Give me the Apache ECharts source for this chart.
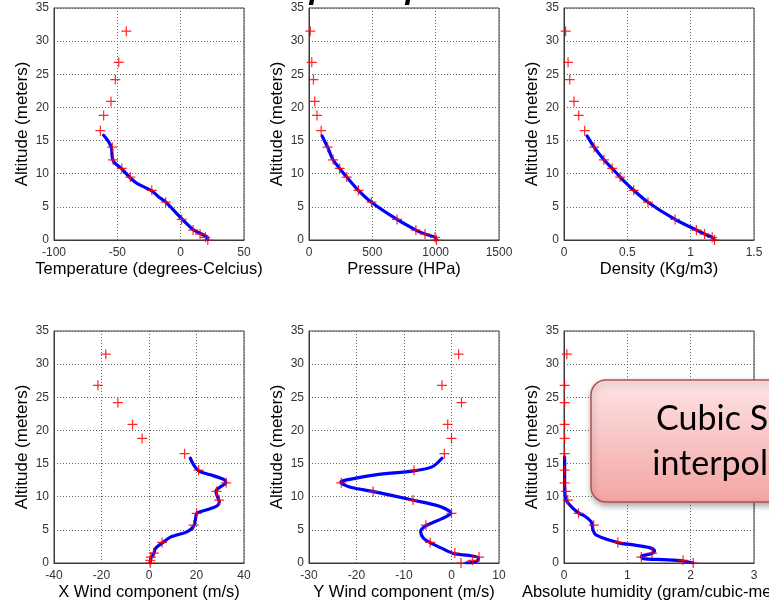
<!DOCTYPE html>
<html><head><meta charset="utf-8">
<script src="https://cdn.jsdelivr.net/npm/echarts/dist/echarts.min.js"></script>
<style>html,body{margin:0;padding:0;background:#fff}#c{width:769px;height:606px}</style>
</head><body><div id="c"></div>
<script>
// ---- data ----
const altitude    = [31.5, 26.8, 24.2, 20.9, 18.8, 16.5, 14.0, 12.1, 10.8, 9.5, 7.5, 5.7, 3.1, 1.5, 0.9, 0.4, 0.0];
const temperature = [-42.9, -48.9, -51.6, -55.0, -60.8, -63.4, -54.0, -53.4, -46.5, -39.7, -22.8, -11.8, 0.8, 9.8, 15.3, 19.6, 21.4];
const pressure    = [10, 22, 35, 45, 63, 96, 147, 190, 242, 298, 390, 493, 695, 844, 916, 995, 1006];
const density     = [0.013, 0.032, 0.045, 0.079, 0.116, 0.163, 0.238, 0.315, 0.38, 0.443, 0.55, 0.663, 0.877, 1.045, 1.11, 1.17, 1.188];
const xWind       = [-18.2, -21.5, -13.1, -6.95, -2.9, 15.0, 20.9, 32.5, 28.4, 29.5, 20.1, 18.8, 5.5, 2.0, 0.8, 0.5, 0.5];
const yWind       = [1.5, -2.0, 2.1, -0.8, 0.0, -1.5, -7.9, -23.2, -16.5, -8.1, 0.0, -5.4, -4.5, 0.7, 5.8, 4.4, 2.0];
const humidity    = [0.045, 0.01, 0.01, 0.01, 0.01, 0.01, 0.01, 0.01, 0.03, 0.06, 0.23, 0.47, 0.85, 1.39, 1.22, 1.88, 2.04];

// blue interpolated curves
const tempCurveT   = [-60.8, -56.8, -54.5, -54.2, -52.9, -46.3, -39.7, -34.5, -23.1, -17.3, -12.1, 1.05, 10.3, 15.6, 20.8, 21.3];
const tempCurveAlt = [15.8, 14.8, 13.8, 12.8, 11.8, 10.7, 9.35, 8.55, 7.44, 6.5, 5.78, 3.17, 1.5, 1.0, 0.4, 0.05];
const presCurveP   = [103, 147, 190, 242, 298, 390, 493, 695, 844, 916, 995, 1006];
const presCurveAlt = [15.7, 14.0, 12.1, 10.8, 9.5, 7.5, 5.7, 3.1, 1.5, 0.9, 0.4, 0.0];
const densCurveD   = [0.182, 0.238, 0.315, 0.38, 0.443, 0.55, 0.663, 0.877, 1.045, 1.11, 1.17, 1.188];
const densCurveAlt = [15.7, 14.0, 12.1, 10.8, 9.5, 7.5, 5.7, 3.1, 1.5, 0.9, 0.4, 0.0];
const xwCurveU     = [17.4, 18.8, 20.9, 25.9, 31.5, 32.4, 30.1, 28.2, 28.6, 29.6, 28.6, 25.1, 20.2, 19.5, 18.8, 16.0, 9.0, 5.5, 2.7, 2.0, 0.9, 0.5];
const xwCurveAlt   = [15.8, 14.8, 13.9, 13.3, 12.6, 12.15, 11.5, 10.85, 10.2, 9.2, 8.6, 8.1, 7.5, 6.45, 5.55, 4.7, 3.9, 3.0, 2.2, 1.4, 0.8, 0.05];
const ywCurveV     = [-2.0, -4.1, -7.95, -16.0, -22.3, -23.3, -21.6, -16.6, -8.2, -2.7, -0.1, -2.0, -5.5, -6.5, -5.85, -4.3, -2.0, 0.6, 3.6, 5.7, 5.4, 4.3, 3.0];
const ywCurveAlt   = [15.8, 14.5, 13.9, 13.3, 12.5, 12.2, 11.5, 10.8, 9.5, 8.6, 7.5, 6.7, 5.55, 4.7, 3.7, 3.0, 2.2, 1.4, 1.15, 0.8, 0.3, 0.05, 0.0];
const humCurveH    = [0.01, 0.01, 0.02, 0.06, 0.22, 0.33, 0.43, 0.46, 0.51, 0.85, 1.14, 1.35, 1.43, 1.38, 1.22, 1.25, 1.56, 1.88, 2.04];
const humCurveAlt  = [16.0, 12.0, 10.0, 9.1, 7.6, 7.06, 6.2, 4.9, 4.2, 3.08, 2.67, 2.32, 1.82, 1.41, 1.0, 0.66, 0.5, 0.3, 0.0];

const xNames = ['Temperature (degrees-Celcius)', 'Pressure (HPa)', 'Density (Kg/m3)',
                'X Wind component (m/s)', 'Y Wind component (m/s)', 'Absolute humidity (gram/cubic-meter)'];
const yName = 'Altitude (meters)';
const xMin = [-100, 0, 0, -40, -30, 0];
const xMax = [50, 1500, 1.5, 40, 10, 3];
const xStep = [50, 500, 0.5, 20, 10, 1];
const yMin = 0, yMax = 35, yStep = 5;
const calloutLines = ['Cubic Spline', 'interpolation'];
const titleText = 'Atmosphere profiles';

// ---- build chart ----
const markerVals = [temperature, pressure, density, xWind, yWind, humidity];
const curveX = [tempCurveT, presCurveP, densCurveD, xwCurveU, ywCurveV, humCurveH];
const curveY = [tempCurveAlt, presCurveAlt, densCurveAlt, xwCurveAlt, ywCurveAlt, humCurveAlt];

const lefts = [54, 309, 564];
const tops = [8, 331];
const W = 190, H = 232;
const FONT = 'Liberation Sans, Arial, sans-serif';
const plus = 'path://M4.4,0H5.6V4.4H10V5.6H5.6V10H4.4V5.6H0V4.4H4.4Z';

const grid = [], xAxis = [], yAxis = [], series = [], names = [];
for (let i = 0; i < 6; i++) {
  const gl = lefts[i % 3], gt = tops[Math.floor(i / 3)];
  grid.push({ left: gl, top: gt, width: W, height: H,
              show: true, borderColor: '#3a3a3a', borderWidth: 1, backgroundColor: '#fff' });
  const split = { show: true, lineStyle: { type: [1, 2], color: '#666', width: 1 } };
  xAxis.push({ type: 'value', gridIndex: i, min: xMin[i], max: xMax[i], interval: xStep[i],
    axisLine: { show: true, onZero: false, lineStyle: { color: '#3a3a3a' } }, axisTick: { show: false },
    axisLabel: { fontFamily: FONT, fontSize: 12, color: '#333', margin: 7, formatter: v => String(v) },
    splitLine: split });
  yAxis.push({ type: 'value', gridIndex: i, min: yMin, max: yMax, interval: yStep,
    name: yName, nameLocation: 'middle', nameGap: 23, nameRotate: 90,
    nameTextStyle: { fontFamily: FONT, fontSize: 17, color: '#000' },
    axisLine: { show: true, onZero: false, lineStyle: { color: '#3a3a3a' } }, axisTick: { show: false },
    axisLabel: { fontFamily: FONT, fontSize: 12, color: '#333', margin: 5, formatter: v => String(v) },
    splitLine: split });
  series.push({ type: 'line', xAxisIndex: i, yAxisIndex: i, symbol: 'none', smooth: 0.3,
    data: curveX[i].map((v, k) => [v, curveY[i][k]]),
    lineStyle: { color: '#0000ff', width: 3.2, cap: 'round', join: 'round' }, z: 3, silent: true });
  series.push({ type: 'scatter', xAxisIndex: i, yAxisIndex: i, symbol: plus, symbolSize: 10,
    data: markerVals[i].map((v, k) => [v, altitude[k]]),
    itemStyle: { color: '#ff0000', opacity: 0.85 }, z: 4, silent: true, clip: false });
  // x-axis title drawn as real text, centred under the plot (allowed to run off the page)
  names.push({ type: 'text', x: gl + W / 2, y: gt + H + 21, z: 5,
    style: { text: xNames[i], fontFamily: FONT, fontSize: 16.5, fill: '#000', align: 'center', verticalAlign: 'top' } });
}

const chart = echarts.init(document.getElementById('c'), null, { renderer: 'canvas' });
chart.setOption({
  animation: false,
  backgroundColor: '#fff',
  grid, xAxis, yAxis, series,
  graphic: names.concat([
    { type: 'text', left: 210, top: -27, z: 10,
      style: { text: titleText, fontFamily: FONT, fontSize: 32, fontWeight: 'bold', fontStyle: 'italic', fill: '#000' } },
    { type: 'rect', shape: { x: 591, y: 380, width: 320, height: 122, r: 15 }, z: 20,
      style: { fill: { type: 'linear', x: 0, y: 0, x2: 0, y2: 1,
                        colorStops: [{ offset: 0, color: '#fde4e4' }, { offset: 1, color: '#f4a4a4' }] },
               stroke: '#b5504c', lineWidth: 1.5,
               shadowBlur: 6, shadowColor: 'rgba(0,0,0,0.35)', shadowOffsetX: 1, shadowOffsetY: 3 } },
    { type: 'text', x: 748, y: 419, z: 21,
      style: { text: calloutLines[0], fontFamily: 'Lato, sans-serif', fontSize: 34, fill: '#000', align: 'center', verticalAlign: 'middle' } },
    { type: 'text', x: 748, y: 464, z: 21,
      style: { text: calloutLines[1], fontFamily: 'Lato, sans-serif', fontSize: 34, fill: '#000', align: 'center', verticalAlign: 'middle' } }
  ])
});
</script>
</body></html>
